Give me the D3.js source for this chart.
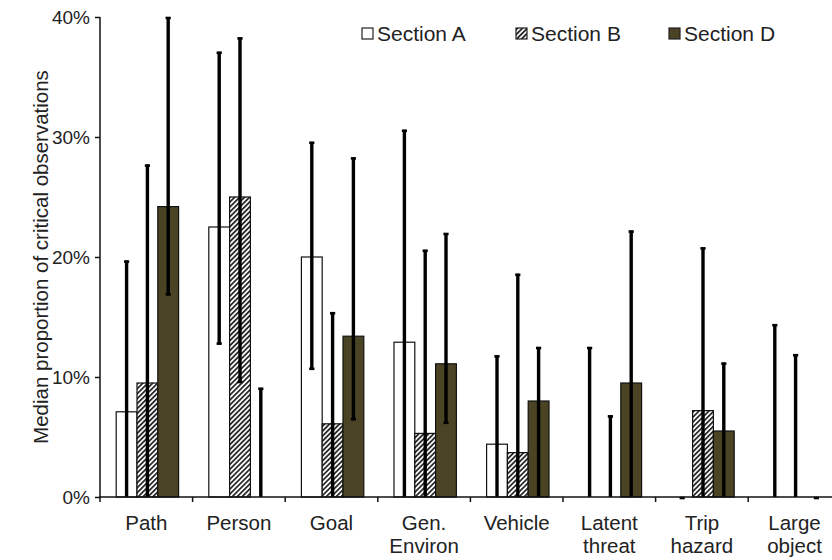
<!DOCTYPE html>
<html>
<head>
<meta charset="utf-8">
<script src="https://cdn.jsdelivr.net/npm/d3@7"></script>
<style>
  html, body { margin: 0; padding: 0; background: #fff; }
  svg { display: block; font-family: "Liberation Sans", Arial, Helvetica, sans-serif; }
</style>
</head>
<body>
<svg id="chart" width="832" height="560"></svg>
<script>
// ---- Data (percent) ----
const categories = ["Path", "Person", "Goal", "Gen. Environ", "Vehicle", "Latent threat", "Trip hazard", "Large object"];
const seriesNames = ["Section A", "Section B", "Section D"];
const sectionA = [7.1, 22.5, 20.0, 12.9, 4.4, 0, 0, 0];
const sectionB = [9.5, 25.0, 6.1, 5.3, 3.7, 0, 7.2, 0];
const sectionD = [24.2, 0, 13.4, 11.1, 8.0, 9.5, 5.5, 0];
const lowA  = [0, 12.7, 10.6, 0, 0, 0, 0, 0];
const highA = [19.7, 37.1, 29.6, 30.6, 11.8, 12.5, 0, 14.4];
const lowB  = [0, 9.5, 0, 0, 0, 0, 0, 0];
const highB = [27.7, 38.3, 15.4, 20.6, 18.6, 6.8, 20.8, 11.9];
const lowD  = [16.8, 0, 6.4, 6.1, 0, 0, 0, 0];
const highD = [40, 9.1, 28.3, 22.0, 12.5, 22.2, 11.2, 0];
const yTicks = [0, 10, 20, 30, 40];

const values = [sectionA, sectionB, sectionD];
const lows = [lowA, lowB, lowD];
const highs = [highA, highB, highD];

const rows = [];
categories.forEach((c, i) => {
  seriesNames.forEach((s, j) => {
    rows.push({ cat: c, series: s, v: values[j][i], lo: lows[j][i], hi: highs[j][i] });
  });
});

const svg = d3.select("#chart");
const defs = svg.append("defs");
const pat = defs.append("pattern")
  .attr("id", "hatch").attr("patternUnits", "userSpaceOnUse")
  .attr("width", 3.5).attr("height", 3.5)
  .attr("patternTransform", "rotate(45)");
pat.append("rect").attr("width", 3.5).attr("height", 3.5).attr("fill", "#fff");
pat.append("line").attr("x1", 0.9).attr("y1", 0).attr("x2", 0.9).attr("y2", 3.5)
  .attr("stroke", "#2a2a2a").attr("stroke-width", 1.8);

const fills = { "Section A": "#ffffff", "Section B": "url(#hatch)", "Section D": "#4b4424" };

const x0 = d3.scaleBand().domain(categories).range([100, 840.8]).paddingInner(0).paddingOuter(0);
const x1 = d3.scaleBand().domain(seriesNames).range([16.2, 78.6]);
const y = d3.scaleLinear().domain([0, 40]).range([497, 17]);

const textColor = "#222";

// Bars
svg.append("g").selectAll("rect").data(rows).join("rect")
  .attr("x", d => x0(d.cat) + x1(d.series))
  .attr("y", d => y(d.v))
  .attr("width", x1.bandwidth())
  .attr("height", d => y(0) - y(d.v))
  .attr("fill", d => fills[d.series])
  .attr("stroke", d => d.v > 0 ? "#111" : "none")
  .attr("stroke-width", 1.2);

// Error bars
const eb = svg.append("g");
const cx = d => x0(d.cat) + x1(d.series) + x1.bandwidth() / 2;
eb.selectAll("line.v").data(rows.filter(d => d.hi > d.lo)).join("line")
  .attr("class", "v")
  .attr("x1", cx).attr("x2", cx)
  .attr("y1", d => y(d.lo)).attr("y2", d => y(d.hi))
  .attr("stroke", "#000").attr("stroke-width", 3.4);
eb.selectAll("line.ct").data(rows).join("line")
  .attr("class", "ct")
  .attr("x1", d => cx(d) - 2.6).attr("x2", d => cx(d) + 2.6)
  .attr("y1", d => y(d.hi) + 1).attr("y2", d => y(d.hi) + 1)
  .attr("stroke", "#000").attr("stroke-width", 2.6);
eb.selectAll("line.cb").data(rows.filter(d => d.lo > 0)).join("line")
  .attr("class", "cb")
  .attr("x1", d => cx(d) - 2.6).attr("x2", d => cx(d) + 2.6)
  .attr("y1", d => y(d.lo) - 1).attr("y2", d => y(d.lo) - 1)
  .attr("stroke", "#000").attr("stroke-width", 2.6);

// Y axis
const yAxis = d3.axisLeft(y).tickValues(yTicks).tickFormat(d => d + "%").tickSize(5).tickPadding(5);
const gy = svg.append("g").attr("transform", "translate(100,0)").call(yAxis);
gy.select(".domain").attr("stroke", "#111").attr("stroke-width", 1.5).attr("d", "M0,17V497");
gy.selectAll(".tick line").attr("stroke", "#111").attr("stroke-width", 1.5);
gy.selectAll(".tick text").attr("font-size", 19).attr("fill", textColor)
  .attr("font-family", "'Liberation Sans', Arial, sans-serif");

// X axis
const gx = svg.append("g").attr("transform", "translate(0,497)");
gx.append("line").attr("x1", 99).attr("x2", 832).attr("y1", 0).attr("y2", 0)
  .attr("stroke", "#111").attr("stroke-width", 1.5);
const boundaries = categories.map(c => x0(c));
gx.selectAll("line.tk").data(boundaries).join("line")
  .attr("class", "tk")
  .attr("x1", d => d).attr("x2", d => d).attr("y1", 0).attr("y2", 5)
  .attr("stroke", "#111").attr("stroke-width", 1.5);
const lbl = gx.selectAll("text.cat").data(categories).join("text")
  .attr("class", "cat")
  .attr("text-anchor", "middle")
  .attr("font-size", 20.5)
  .attr("fill", textColor);
lbl.each(function(c) {
  const parts = c.split(" ");
  const t = d3.select(this);
  parts.forEach((p, i) => {
    t.append("tspan")
      .attr("x", x0(c) + x0.bandwidth() / 2)
      .attr("y", 32.5 + i * 23)
      .text(p);
  });
});

// Y label
svg.append("text")
  .attr("transform", "translate(47.5,257) rotate(-90)")
  .attr("text-anchor", "middle")
  .attr("font-size", 20.5)
  .attr("fill", textColor)
  .text("Median proportion of critical observations");

// Legend
const legendX = [362, 516, 669];
const lg = svg.append("g");
seriesNames.forEach((s, i) => {
  lg.append("rect").attr("x", legendX[i]).attr("y", 28).attr("width", 11).attr("height", 11)
    .attr("fill", fills[s]).attr("stroke", "#222").attr("stroke-width", 1.2);
  lg.append("text").attr("x", legendX[i] + 15).attr("y", 41)
    .attr("font-size", 21).attr("fill", textColor).text(s);
});
</script>
</body>
</html>
